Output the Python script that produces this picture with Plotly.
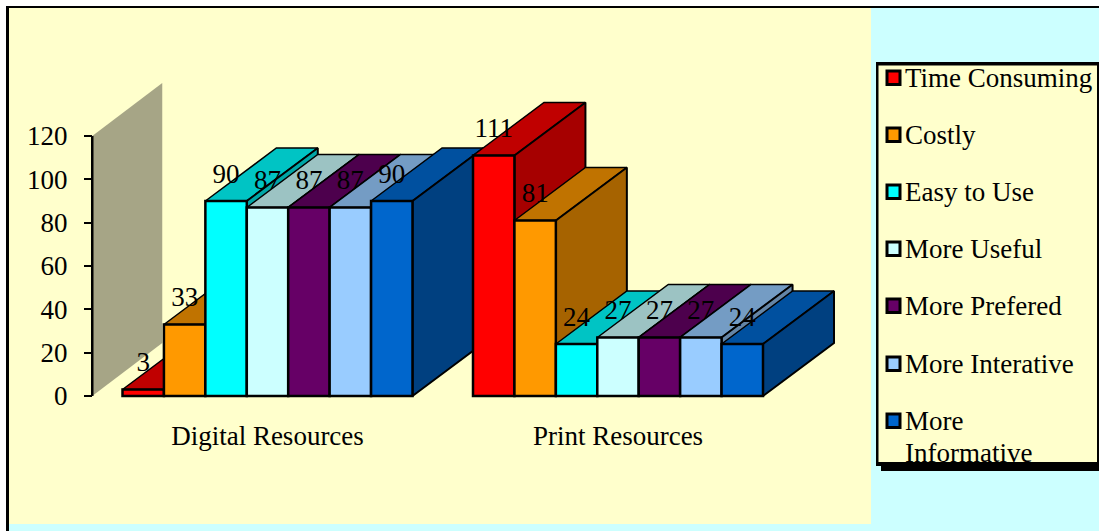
import plotly.graph_objects as go

# ---- data ----
categories = ["Digital Resources", "Print Resources"]
series_names = ["Time Consuming", "Costly", "Easy to Use", "More Useful",
                "More Prefered", "More Interative", "More<br>Informative"]
digital_values = [3, 33, 90, 87, 87, 87, 90]
print_values = [111, 81, 24, 27, 27, 27, 24]
front_colors = ["#FF0000", "#FF9900", "#00FFFF", "#CCFFFF", "#660066", "#99CCFF", "#0066CC"]
top_colors = ["#C00000", "#C07300", "#00C4C4", "#9CC3C3", "#4D004D", "#749CC4", "#00509F"]
side_colors = ["#A60000", "#A66300", "#00A6A6", "#85A6A6", "#420042", "#6485A6", "#004080"]
y_ticks = [0, 20, 40, 60, 80, 100, 120]

W, H = 1099, 531
FONT = "Liberation Serif"
FS = 27

# axis scales: pixels per unit
PX_X = 350.5      # px per category
PX_Y = 260 / 120  # px per value unit
X0_PX = 267.5     # px of first category
Y0_PX = 396       # px of value 0
x_range = [-X0_PX / PX_X, (W - X0_PX) / PX_X]
y_range = [-(H - Y0_PX) / PX_Y, Y0_PX / PX_Y]

BARGAP = 60.5 / 350.5
BW = (1 - BARGAP) / len(series_names)
DX = 71 / PX_X     # depth offset
DY = 53 / PX_Y
LABEL_LIFT = 11.5

fig = go.Figure()

# back wall
wx, wy = -0.5, 120
wall_dx = 70 / PX_X
fig.add_trace(go.Scatter(
    x=[wx, wx + wall_dx, wx + wall_dx, wx, wx], y=[0, DY, wy + DY, wy, 0],
    mode="lines", fill="toself", fillcolor="#A6A586", line=dict(width=0),
    hoverinfo="skip", showlegend=False, xaxis="x", yaxis="y"))

# depth faces in painter order
rows = [digital_values, print_values]
for c, vals in enumerate(rows):
    for i, v in enumerate(vals):
        l = c + (i - len(vals) / 2) * BW
        r = l + BW
        fig.add_trace(go.Scatter(
            x=[l, l + DX, r + DX, r, l], y=[v, v + DY, v + DY, v, v],
            mode="lines", fill="toself", fillcolor=top_colors[i],
            line=dict(color="black", width=1.5), hoverinfo="skip",
            showlegend=False, xaxis="x", yaxis="y"))
        fig.add_trace(go.Scatter(
            x=[r, r + DX, r + DX, r, r], y=[0, DY, v + DY, v, 0],
            mode="lines", fill="toself", fillcolor=side_colors[i],
            line=dict(color="black", width=2), hoverinfo="skip",
            showlegend=False, xaxis="x", yaxis="y"))

# front faces on an overlaid pair of axes, so they sit above all depth faces
for i, name in enumerate(series_names):
    fig.add_trace(go.Bar(
        x=[0, 1], y=[digital_values[i], print_values[i]],
        name=name.replace("<br>", " "),
        marker=dict(color=front_colors[i], line=dict(color="black", width=2.5)),
        showlegend=False, xaxis="x2", yaxis="y2"))

# value labels
for c, vals in enumerate(rows):
    fig.add_trace(go.Scatter(
        x=[c + (i - (len(vals) - 1) / 2) * BW for i in range(len(vals))],
        y=[v + LABEL_LIFT for v in vals],
        text=[str(v) for v in vals], mode="text", textposition="middle center",
        textfont=dict(family=FONT, size=FS, color="black"),
        hoverinfo="skip", showlegend=False, xaxis="x2", yaxis="y2"))

def px(x): return x / W
def py(y): return 1 - y / H

shapes = []
def rect(x0, y0, x1, y1, color, layer="below", line=None, lw=0):
    shapes.append(dict(type="rect", xref="paper", yref="paper", layer=layer,
                       x0=px(x0), x1=px(x1), y0=py(y0), y1=py(y1),
                       fillcolor=color, line=dict(color=line or color, width=lw)))

# chart area
rect(0, 0, W, 6, "#FFFFFF")
rect(0, 0, 6, H, "#FFFFFF")
rect(8, 8, 871, 524, "#FFFFCC")
rect(6, 6, W, 8, "#000000")
rect(6, 6, 9, H, "#000000")

# y axis line
shapes.append(dict(type="line", xref="x", yref="y", layer="above", x0=wx, x1=wx, y0=0, y1=wy,
                   line=dict(color="black", width=2.5)))

# legend box
rect(881, 466, W, 471, "#000000", "above")
rect(876, 62, W, 466, "#000000", "above")
rect(878.5, 65.5, 1097, 462, "#FFFFCC", "above")

row_centers = [78, 135, 192, 249, 306, 364, 421]
LINE_STEP = 32
annotations = []
for name, color, yc in zip(series_names, front_colors, row_centers):
    rect(887, yc - 7, 900, yc + 6.5, color, "above", "#000000", 3)
    for k, part in enumerate(name.split("<br>")):
        annotations.append(dict(
            text=part, xref="paper", yref="paper", x=px(905), y=py(yc - 15 + k * LINE_STEP),
            xanchor="left", yanchor="top", align="left", showarrow=False,
            font=dict(family=FONT, size=FS, color="black"), borderpad=0, borderwidth=0))

fig.update_layout(
    width=W, height=H, autosize=False,
    margin=dict(l=0, r=0, t=0, b=0, pad=0),
    paper_bgcolor="#CCFFFF", plot_bgcolor="rgba(0,0,0,0)",
    barmode="group", bargap=BARGAP, bargroupgap=0,
    showlegend=False, shapes=shapes, annotations=annotations,
    xaxis=dict(domain=[0, 1], range=x_range, tickmode="array", tickvals=[0, 1], ticktext=categories,
               anchor="free", position=py(Y0_PX), showgrid=False, zeroline=False, showline=False,
               ticks="outside", ticklen=16, tickcolor="rgba(0,0,0,0)",
               tickfont=dict(family=FONT, size=FS, color="black"), automargin=False),
    yaxis=dict(domain=[0, 1], range=y_range, tickmode="array", tickvals=y_ticks,
               anchor="free", position=px(92), showgrid=False, zeroline=False, showline=False,
               ticks="outside", ticklen=8, tickwidth=2, tickcolor="black",
               ticklabelstandoff=11,
               tickfont=dict(family=FONT, size=FS, color="black"), automargin=False),
    xaxis2=dict(domain=[0, 1], range=x_range, overlaying="x", visible=False, anchor="y2"),
    yaxis2=dict(domain=[0, 1], range=y_range, overlaying="y", visible=False, anchor="x2"),
)

fig.write_html("out.html", config={"displayModeBar": False},
               post_script="document.body.style.margin='0';document.body.style.overflow='hidden';")
